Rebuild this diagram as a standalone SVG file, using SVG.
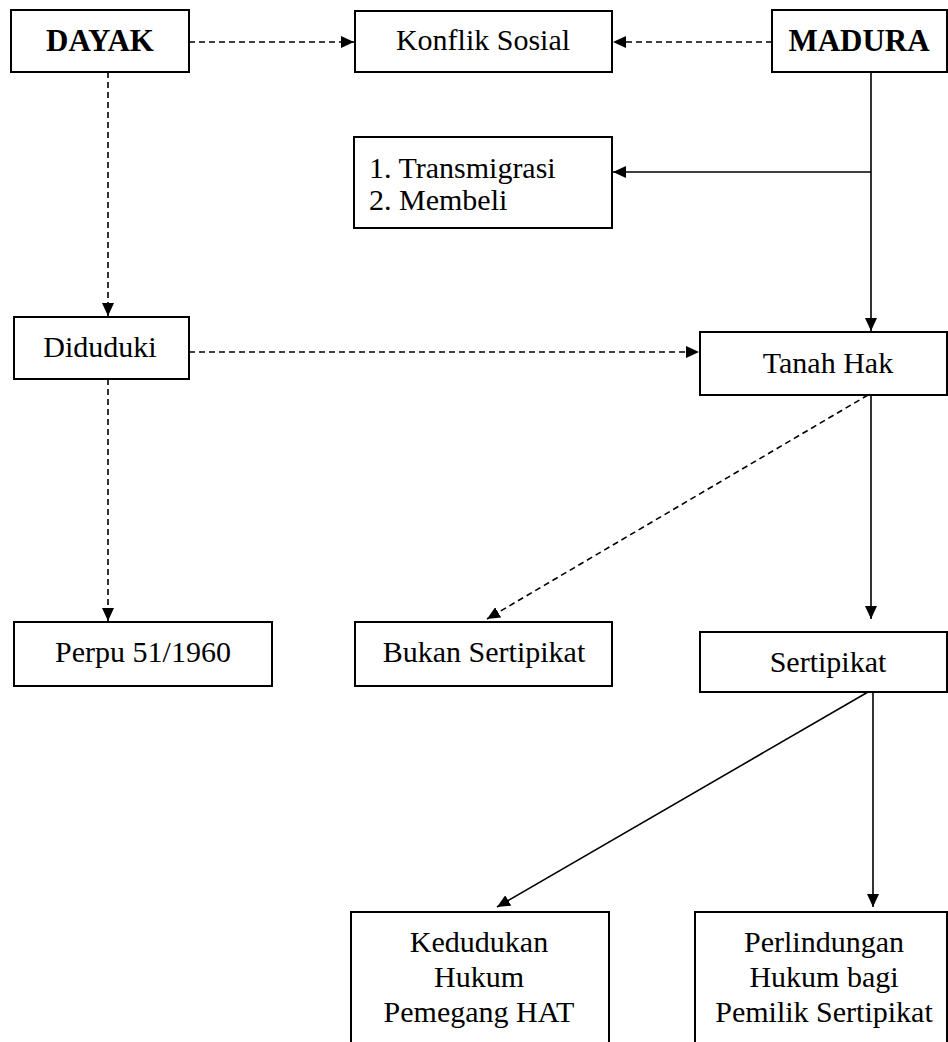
<svg xmlns="http://www.w3.org/2000/svg" width="948" height="1042" viewBox="0 0 948 1042">
<style>
.box{fill:#fff;stroke:#000;stroke-width:2}
.t{font-family:"Liberation Serif","Times New Roman",serif;font-size:30px;fill:#000}
.c{text-anchor:middle}
.b{font-weight:bold;font-size:31px}
.dash{fill:none;stroke:#000;stroke-width:1.6;stroke-dasharray:6,4}
.solid{fill:none;stroke:#000;stroke-width:1.6}
</style>
<defs>
<marker id="ah" markerUnits="userSpaceOnUse" markerWidth="14" markerHeight="12" refX="13" refY="6" orient="auto">
<path d="M0,0 L13,6 L0,12 z" fill="#000"/>
</marker>
</defs>
<rect width="948" height="1042" fill="#fff"/>
<g id="connectors">
<line class="dash" x1="189" y1="42" x2="354" y2="42" marker-end="url(#ah)"/>
<line class="dash" x1="772" y1="42" x2="613" y2="42" marker-end="url(#ah)"/>
<line class="dash" x1="108" y1="72" x2="108" y2="316" marker-end="url(#ah)"/>
<line class="dash" x1="108" y1="379" x2="108" y2="621" marker-end="url(#ah)"/>
<line class="dash" x1="189" y1="352" x2="699" y2="352" marker-end="url(#ah)"/>
<line class="solid" x1="871" y1="72" x2="871" y2="331" marker-end="url(#ah)"/>
<line class="solid" x1="871" y1="172" x2="613" y2="172" marker-end="url(#ah)"/>
<line class="dash" x1="868" y1="395" x2="487" y2="619" marker-end="url(#ah)"/>
<line class="solid" x1="871" y1="395" x2="871" y2="619" marker-end="url(#ah)"/>
<line class="solid" x1="868" y1="692" x2="497" y2="907" marker-end="url(#ah)"/>
<line class="solid" x1="873" y1="692" x2="873" y2="907" marker-end="url(#ah)"/>
</g>
<g id="dayak"><rect class="box" x="11" y="10" width="178" height="62"/><text class="t c b" x="100" y="51">DAYAK</text></g>
<g id="konflik"><rect class="box" x="355" y="11" width="257" height="61"/><text class="t c" x="483" y="50">Konflik Sosial</text></g>
<g id="madura"><rect class="box" x="772" y="10" width="175" height="62"/><text class="t c b" x="859" y="51">MADURA</text></g>
<g id="transmigrasi"><rect class="box" x="354" y="137" width="258" height="91"/><text class="t" x="369" y="178">1. Transmigrasi</text><text class="t" x="369" y="210">2. Membeli</text></g>
<g id="diduduki"><rect class="box" x="14" y="317" width="175" height="62"/><text class="t c" x="100" y="357">Diduduki</text></g>
<g id="tanahhak"><rect class="box" x="700" y="332" width="247" height="63"/><text class="t c" x="828" y="373">Tanah Hak</text></g>
<g id="perpu"><rect class="box" x="14" y="622" width="258" height="64"/><text class="t c" x="143" y="662">Perpu 51/1960</text></g>
<g id="bukan"><rect class="box" x="355" y="622" width="257" height="64"/><text class="t c" x="484" y="662">Bukan Sertipikat</text></g>
<g id="sertipikat"><rect class="box" x="700" y="632" width="247" height="60"/><text class="t c" x="828" y="672">Sertipikat</text></g>
<g id="kedudukan"><rect class="box" x="351" y="912" width="258" height="140"/><text class="t c" x="479" y="952">Kedudukan</text><text class="t c" x="479" y="987">Hukum</text><text class="t c" x="479" y="1022">Pemegang HAT</text></g>
<g id="perlindungan"><rect class="box" x="695" y="912" width="252" height="140"/><text class="t c" x="824" y="952">Perlindungan</text><text class="t c" x="824" y="987">Hukum bagi</text><text class="t c" x="824" y="1022">Pemilik Sertipikat</text></g>
</svg>
